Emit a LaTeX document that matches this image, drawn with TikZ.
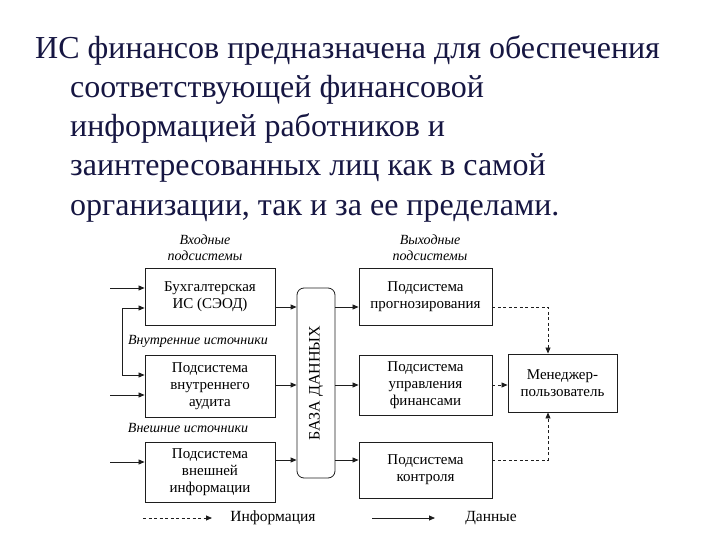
\documentclass[tikz,border=0pt]{standalone}
\usepackage{fontspec}
\setmainfont{Liberation Serif}
\usetikzlibrary{arrows.meta,calc}
\definecolor{headcol}{RGB}{22,22,66}
\definecolor{inkcol}{RGB}{30,30,30}
\tikzset{
  subsys/.style={draw=inkcol, line width=0.9pt, align=center, inner sep=0pt,
    font=\fontsize{15}{17}\selectfont},
  note/.style={align=center, inner sep=0pt, font=\fontsize{14}{16}\selectfont\itshape},
  data/.style={draw=inkcol, line width=0.8pt, -{Triangle[length=6pt,width=5pt]}},
  info/.style={data, dash pattern=on 3pt off 2.5pt},
  headline/.style={anchor=base west, inner sep=0pt, text=headcol,
    font=\fontsize{32}{39}\selectfont}
}
\begin{document}
\begin{tikzpicture}[x=1pt,y=-1pt]
    \useasboundingbox (0,0) rectangle (720,540);
    % heading
    \node[headline] (h1) at (35,59) {ИС финансов предназначена для обеспечения};
    \node[headline] (h2) at (70,98) {соответствующей финансовой};
    \node[headline] (h3) at (70,137) {информацией работников и};
    \node[headline] (h4) at (70,176) {заинтересованных лиц как в самой};
    \node[headline] (h5) at (70,215) {организации, так и за ее пределами.};
    % input subsystems
    \node[note] (inlab) at (205,248) {Входные\\подсистемы};
    \node[subsys, minimum width=130pt, minimum height=57pt] (buh) at (210,296.5) {Бухгалтерская\\ИС (СЭОД)};
    \node[note] (intsrc) at (198,341) {Внутренние источники};
    \node[subsys, minimum width=130pt, minimum height=62pt] (aud) at (210,386) {Подсистема\\внутреннего\\аудита};
    \node[note] (extsrc) at (188,428) {Внешние источники};
    \node[subsys, minimum width=130pt, minimum height=60pt] (ext) at (210,472) {Подсистема\\внешней\\информации};
    % data base
    \node[draw=inkcol, line width=0.8pt, rounded corners=7pt, minimum width=38pt, minimum height=190pt] (db) at (316,383) {};
    \node[rotate=90, inner sep=0pt, font=\fontsize{16}{18}\selectfont] (dbtext) at (db) {БАЗА ДАННЫХ};
    % output subsystems
    \node[note] (outlab) at (430,248) {Выходные\\подсистемы};
    \node[subsys, minimum width=133pt, minimum height=57pt] (prog) at (425.5,296.5) {Подсистема\\прогнозирования};
    \node[subsys, minimum width=133pt, minimum height=60pt] (fin) at (425.5,385) {Подсистема\\управления\\финансами};
    \node[subsys, minimum width=133pt, minimum height=56pt] (ctl) at (425.5,470) {Подсистема\\контроля};
    \node[subsys, minimum width=109pt, minimum height=58pt] (mgr) at (562.5,383) {Менеджер-\\пользователь};
    % rows of arrows
    \coordinate (r1) at (0,307);
    \coordinate (r2) at (0,385);
    \coordinate (r3) at (0,460);
    \coordinate (e1) at (110,288);
    \coordinate (e2) at (110,395);
    \coordinate (e3) at (110,462);
    \coordinate (lp1) at (122,308);
    \coordinate (lp2) at (122,375);
    \coordinate (mx) at (548,0);
    \draw[data] (e1) -- (buh.west |- e1);
    \draw[data] (e2) -- (aud.west |- e2);
    \draw[data] (e3) -- (ext.west |- e3);
    \draw[data, {Triangle[length=6pt,width=5pt]}-{Triangle[length=6pt,width=5pt]}] (buh.west |- lp1) -- (lp1) -- (lp2) -- (aud.west |- lp2);
    \draw[data] (buh.east |- r1) -- (db.west |- r1);
    \draw[data] (aud.east |- r2) -- (db.west |- r2);
    \draw[data] (ext.east |- r3) -- (db.west |- r3);
    \draw[data] (db.east |- r1) -- (prog.west |- r1);
    \draw[data] (db.east |- r2) -- (fin.west |- r2);
    \draw[data] (db.east |- r3) -- (ctl.west |- r3);
    % information
    \draw[info] (prog.east |- r1) -| (mx |- mgr.north);
    \draw[info] (fin.east |- r2) -- (mgr.west |- r2);
    \draw[info] (ctl.east |- r3) -| (mx |- mgr.south);
    % legend
    \coordinate (l1) at (143,518);
    \coordinate (l2) at (212,518);
    \coordinate (l3) at (372,518);
    \coordinate (l4) at (435,518);
    \draw[info] (l1) -- (l2);
    \node[inner sep=0pt, font=\fontsize{15.5}{17}\selectfont] (infolab) at (273,518) {Информация};
    \draw[data] (l3) -- (l4);
    \node[inner sep=0pt, font=\fontsize{15.5}{17}\selectfont] (datalab) at (491,518) {Данные};
\end{tikzpicture}
\end{document}
